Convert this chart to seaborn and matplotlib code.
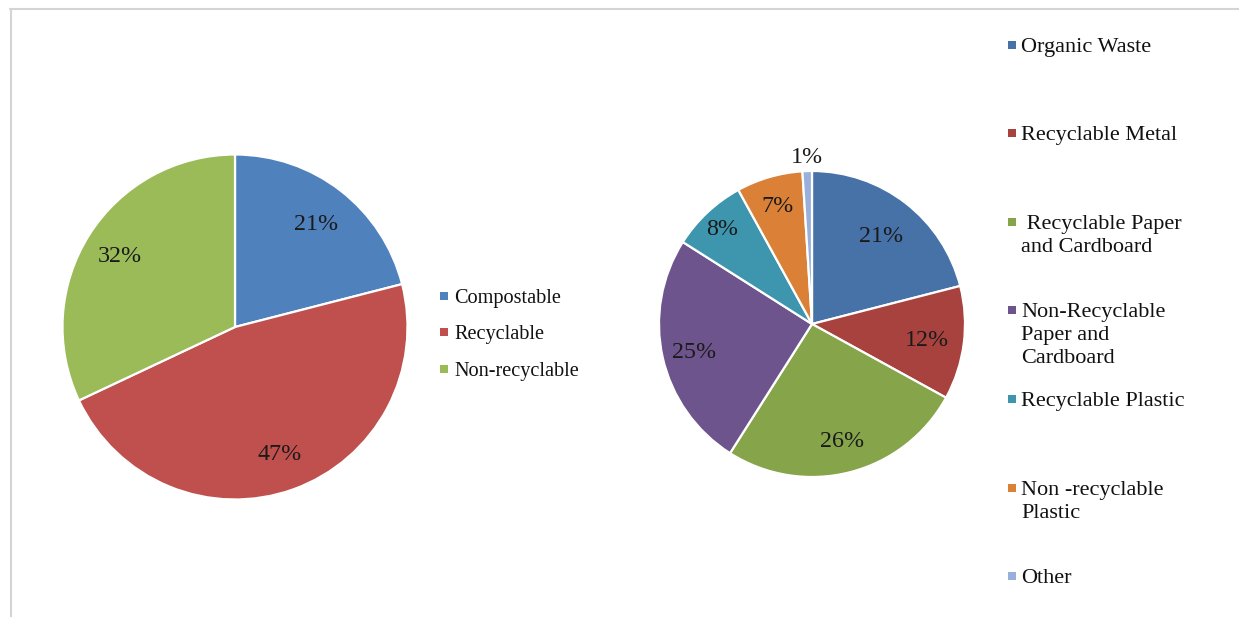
import numpy as np
import matplotlib
matplotlib.use("Agg")
import matplotlib.pyplot as plt
from matplotlib.lines import Line2D
import seaborn as sns

# Waste composition data
overall_labels = ["Compostable", "Recyclable", "Non-recyclable"]
overall_values = [21, 47, 32]
overall_colors = ["#4F81BD", "#C0504D", "#9BBB59"]

detail_labels = ["Organic Waste", "Recyclable Metal", " Recyclable Paper\nand Cardboard",
                 "Non-Recyclable\nPaper and\nCardboard", "Recyclable Plastic",
                 "Non -recyclable\nPlastic", "Other"]
detail_values = [21, 12, 26, 25, 8, 7, 1]
detail_colors = ["#4672A8", "#A8423F", "#86A44A", "#6E548D", "#3D96AE", "#DA8137", "#98B0DA"]

sns.set_theme(style="white")
plt.rcParams["font.family"] = ["Liberation Serif", "DejaVu Serif"]

W, H = 1239, 617
fig = plt.figure(figsize=(W / 100, H / 100), dpi=100)
fig.patch.set_facecolor("white")


def square_axes(cx, cy, r):
    """Axes whose unit circle has centre (cx, cy) and radius r in pixels (y from top)."""
    return fig.add_axes([(cx - r) / W, (H - cy - r) / H, 2 * r / W, 2 * r / H])


def draw_pie(ax, values, colors, label_radii, fontsize):
    wedges, _ = ax.pie(values, colors=colors, startangle=90, counterclock=False,
                       radius=1.0, wedgeprops=dict(edgecolor="white", linewidth=1.6))
    for w, v, rr in zip(wedges, values, label_radii):
        ang = np.deg2rad((w.theta1 + w.theta2) / 2)
        ax.text(rr * np.cos(ang), rr * np.sin(ang) - 0.012, f"{v}%", ha="center", va="center",
                fontsize=fontsize, color="#1a1a1a")
    ax.set_xlim(-1, 1)
    ax.set_ylim(-1, 1)
    ax.set_aspect("equal")
    ax.axis("off")


ax1 = square_axes(235, 327, 172.5)
draw_pie(ax1, overall_values, overall_colors, [0.77, 0.77, 0.79], 17.3)

ax2 = square_axes(812, 324, 153)
draw_pie(ax2, detail_values, detail_colors, [0.74, 0.76, 0.78, 0.79, 0.86, 0.81, 1.10], 17.3)

renderer = fig.canvas.get_renderer()


def legend_entry(x_sq, x_txt, y, color, text, fontsize, sq=8):
    fig.patches.append(plt.Rectangle((x_sq / W, (H - y - sq / 2) / H), sq / W, sq / H,
                                     transform=fig.transFigure, facecolor=color,
                                     edgecolor="none"))
    # place so that the first line is visually centred on y
    probe = fig.text(0, 0, "Ag", fontsize=fontsize)
    line_h = probe.get_window_extent(renderer).height
    probe.remove()
    top = y - line_h / 2 + 2.5
    fig.text(x_txt / W, (H - top) / H, text, ha="left", va="top",
             fontsize=fontsize, color="#111111", linespacing=1.3)


# Left legend
for lab, col, y in zip(overall_labels, overall_colors, [296, 332, 369]):
    legend_entry(440, 454, y, col, lab, 14.6)

# Right legend (first-line centres)
for lab, col, y in zip(detail_labels, detail_colors, [45, 133, 222, 310, 399, 488, 576]):
    legend_entry(1008, 1021, y, col, lab, 16)

# Frame lines
fig.add_artist(Line2D([10 / W, 1], [(H - 8.5) / H, (H - 8.5) / H], color="#d4d4d4",
                      lw=1.5, transform=fig.transFigure))
fig.add_artist(Line2D([10.5 / W, 10.5 / W], [0, (H - 8.5) / H], color="#d4d4d4",
                      lw=1.5, transform=fig.transFigure))

fig.savefig("out.png", dpi=100, facecolor="white")
